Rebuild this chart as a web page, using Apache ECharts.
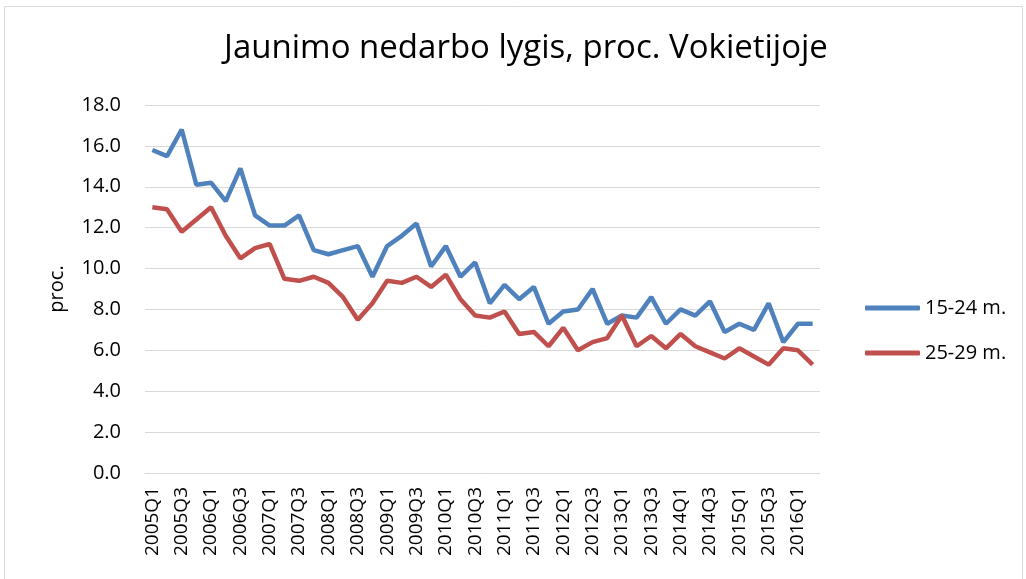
<!DOCTYPE html>
<html>
<head>
<meta charset="utf-8">
<script src="https://cdn.jsdelivr.net/npm/echarts@6/dist/echarts.min.js"></script>
<style>
  html, body { margin: 0; padding: 0; background: #fff; }
  #chart { width: 1026px; height: 579px; }
</style>
</head>
<body>
<div id="chart"></div>
<script>
const years = ["2005", "2006", "2007", "2008", "2009", "2010", "2011", "2012", "2013", "2014", "2015", "2016"];
const quarters = [];
years.forEach((y) => {
  ["Q1", "Q2", "Q3", "Q4"].forEach((q) => quarters.push(y + q));
});
const categories = quarters.slice(0, 46);

const youth1524 = [
  15.8, 15.5, 16.8, 14.1, 14.2, 13.3, 14.9, 12.6, 12.1, 12.1,
  12.6, 10.9, 10.7, 10.9, 11.1, 9.6, 11.1, 11.6, 12.2, 10.1,
  11.1, 9.6, 10.3, 8.3, 9.2, 8.5, 9.1, 7.3, 7.9, 8.0,
  9.0, 7.3, 7.7, 7.6, 8.6, 7.3, 8.0, 7.7, 8.4, 6.9,
  7.3, 7.0, 8.3, 6.4, 7.3, 7.3
];
const youth2529 = [
  13.0, 12.9, 11.8, 12.4, 13.0, 11.6, 10.5, 11.0, 11.2, 9.5,
  9.4, 9.6, 9.3, 8.6, 7.5, 8.3, 9.4, 9.3, 9.6, 9.1,
  9.7, 8.5, 7.7, 7.6, 7.9, 6.8, 6.9, 6.2, 7.1, 6.0,
  6.4, 6.6, 7.7, 6.2, 6.7, 6.1, 6.8, 6.2, 5.9, 5.6,
  6.1, 5.7, 5.3, 6.1, 6.0, 5.3
];

const font = "'Open Sans', 'Noto Sans', sans-serif";
const chart = echarts.init(document.getElementById("chart"));

chart.setOption({
  animation: false,
  textStyle: { fontFamily: font },
  title: {
    text: "Jaunimo nedarbo lygis, proc. Vokietijoje",
    left: 521,
    top: 27,
    textAlign: "center",
    textStyle: { fontFamily: font, fontSize: 33, fontWeight: "normal", color: "#000" }
  },
  graphic: [{
    type: "rect",
    shape: { x: 4.5, y: 6.5, width: 1018, height: 580 },
    style: { fill: "none", stroke: "#d9d9d9", lineWidth: 1 },
    silent: true
  }],
  legend: {
    orient: "vertical",
    left: 860,
    top: 293,
    itemWidth: 55,
    itemHeight: 5,
    itemGap: 25,
    icon: "roundRect",
    textStyle: { fontFamily: font, fontSize: 20, color: "#000", padding: [0, 0, 0, 0] },
    data: ["15-24 m.", "25-29 m."]
  },
  grid: { left: 145, right: 206, top: 105, bottom: 106, containLabel: false },
  xAxis: {
    type: "category",
    data: categories,
    boundaryGap: true,
    axisLine: { show: true, lineStyle: { color: "#d9d9d9", width: 1 } },
    axisTick: { show: false },
    axisLabel: {
      interval: 1,
      rotate: 90,
      fontSize: 19,
      color: "#000",
      margin: 14,
      fontFamily: font
    }
  },
  yAxis: {
    type: "value",
    min: 0,
    max: 18,
    interval: 2,
    name: "proc.",
    nameLocation: "middle",
    nameGap: 78,
    nameTextStyle: { fontSize: 20, color: "#000", fontFamily: font },
    axisLine: { show: false },
    axisTick: { show: false },
    splitLine: { lineStyle: { color: "#d9d9d9", width: 1 } },
    axisLabel: {
      fontSize: 20,
      color: "#000",
      margin: 24,
      fontFamily: font,
      formatter: (v) => v.toFixed(1)
    }
  },
  series: [
    {
      name: "15-24 m.",
      type: "line",
      data: youth1524,
      symbol: "none",
      lineStyle: { color: "#4f81bd", width: 4.5 },
      itemStyle: { color: "#4f81bd" }
    },
    {
      name: "25-29 m.",
      type: "line",
      data: youth2529,
      symbol: "none",
      lineStyle: { color: "#c0504d", width: 4.5 },
      itemStyle: { color: "#c0504d" }
    }
  ]
});
</script>
</body>
</html>
